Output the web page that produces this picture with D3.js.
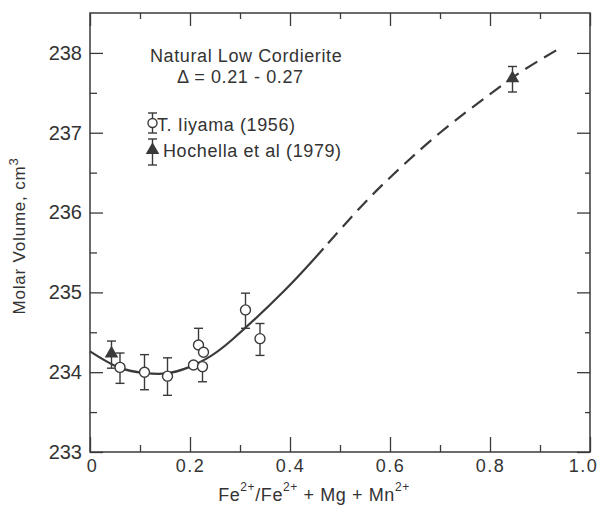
<!DOCTYPE html>
<html><head><meta charset="utf-8">
<script src="https://cdn.jsdelivr.net/npm/d3@7"></script>
<style>body{margin:0;background:#fff}svg{display:block}text{font-family:"Liberation Sans",Arial,sans-serif;fill:#333}</style>
</head><body><svg id="c" width="603" height="505"></svg>
<script>
// Data
const iiyamaX = [0.06, 0.109, 0.155, 0.207, 0.217, 0.227, 0.225, 0.311, 0.34];
const iiyamaY = [234.06, 234.00, 233.95, 234.09, 234.34, 234.25, 234.07, 234.78, 234.42];
const iiyamaErrUp = [0.18, 0.22, 0.23, 0, 0.21, 0, 0, 0.21, 0.19];
const iiyamaErrDn = [0.20, 0.22, 0.24, 0, 0, 0, 0.19, 0.23, 0.21];
const hochX = [0.043, 0.845];
const hochY = [234.22, 237.67];
const hochErr = [0.17, 0.16];
const curveX = [0, 0.057, 0.109, 0.153, 0.197, 0.233, 0.283, 0.39, 0.467, 0.54, 0.607, 0.70, 0.793, 0.86, 0.94];
const curveY = [234.26, 234.06, 233.99, 233.985, 234.06, 234.17, 234.40, 235.03, 235.55, 236.06, 236.48, 237.00, 237.45, 237.755, 238.06];
const curveSolidEnd = 0.467;
const xTicks = [0, 0.2, 0.4, 0.6, 0.8, 1.0];
const xTickLabels = ["0", "0.2", "0.4", "0.6", "0.8", "1.0"];
const xMinor = [0.1, 0.3, 0.5, 0.7, 0.9];
const yTicks = [233, 234, 235, 236, 237, 238];
const yMinor = [233.5, 234.5, 235.5, 236.5, 237.5];

const svg = d3.select("#c");
const L = 90, R = 590, T = 13, B = 452;
const x = d3.scaleLinear().domain([0, 1]).range([L, R]);
const y = d3.scaleLinear().domain([233, 238.5]).range([B, T]);
const ink = "#3a3a3a";

// frame
svg.append("rect").attr("x", L).attr("y", T).attr("width", R - L).attr("height", B - T)
  .attr("fill", "none").attr("stroke", ink).attr("stroke-width", 1.5);

function styleAxis(g) {
  g.select(".domain").remove();
  g.selectAll("line").attr("stroke", ink).attr("stroke-width", 1.3);
}
// bottom
svg.append("g").attr("transform", `translate(0,${B})`)
  .call(d3.axisBottom(x).tickValues(xTicks).tickSize(-15).tickPadding(7).tickFormat((d, i) => xTickLabels[i]))
  .call(styleAxis)
  .call(g => g.selectAll("text").attr("font-size", 18).attr("letter-spacing", 1.5).attr("fill", "#333")
    .attr("font-family", '"Liberation Sans",Arial,sans-serif')
    .attr("dx", d => d === 1 ? -7 : (d === 0 ? 2 : 0)));
svg.append("g").attr("transform", `translate(0,${B})`)
  .call(d3.axisBottom(x).tickValues(xMinor).tickSize(-7).tickFormat(""))
  .call(styleAxis);
// top
svg.append("g").attr("transform", `translate(0,${T})`)
  .call(d3.axisTop(x).tickValues(xTicks).tickSize(-13).tickFormat("")).call(styleAxis);
svg.append("g").attr("transform", `translate(0,${T})`)
  .call(d3.axisTop(x).tickValues(xMinor).tickSize(-6).tickFormat("")).call(styleAxis);
// left
svg.append("g").attr("transform", `translate(${L},0)`)
  .call(d3.axisLeft(y).tickValues(yTicks).tickSize(-13).tickPadding(8).tickFormat(d3.format("d")))
  .call(styleAxis)
  .call(g => g.selectAll("text").attr("font-size", 20).attr("fill", "#333")
    .attr("font-family", '"Liberation Sans",Arial,sans-serif'));
svg.append("g").attr("transform", `translate(${L},0)`)
  .call(d3.axisLeft(y).tickValues(yMinor).tickSize(-7).tickFormat("")).call(styleAxis);
// right
svg.append("g").attr("transform", `translate(${R},0)`)
  .call(d3.axisRight(y).tickValues(yTicks).tickSize(-13).tickFormat("")).call(styleAxis);
svg.append("g").attr("transform", `translate(${R},0)`)
  .call(d3.axisRight(y).tickValues(yMinor).tickSize(-5).tickFormat("")).call(styleAxis);

// curve: one smooth path, solid up to curveSolidEnd then dashed
const line = d3.line().x(d => x(d[0])).y(d => y(d[1])).curve(d3.curveNatural);
const curvePath = svg.append("path").datum(d3.zip(curveX, curveY)).attr("d", line)
  .attr("fill", "none").attr("stroke", ink).attr("stroke-width", 2.2);
(function () {
  const node = curvePath.node();
  const total = node.getTotalLength();
  const target = x(curveSolidEnd);
  let lo = 0, hi = total;
  for (let i = 0; i < 40; i++) {
    const mid = (lo + hi) / 2;
    if (node.getPointAtLength(mid).x < target) lo = mid; else hi = mid;
  }
  const parts = [lo.toFixed(1), 7];
  let acc = lo + 7;
  while (acc < total) { parts.push(14, 8); acc += 22; }
  curvePath.attr("stroke-dasharray", parts.join(" "));
})();

// error bars
function errBar(cx, yTop, yBot) {
  const g = svg.append("g").attr("stroke", ink).attr("stroke-width", 1.4);
  g.append("line").attr("x1", cx).attr("x2", cx).attr("y1", yTop).attr("y2", yBot);
  g.append("line").attr("x1", cx - 4.5).attr("x2", cx + 4.5).attr("y1", yTop).attr("y2", yTop);
  g.append("line").attr("x1", cx - 4.5).attr("x2", cx + 4.5).attr("y1", yBot).attr("y2", yBot);
}
iiyamaX.forEach((vx, i) => {
  const vy = iiyamaY[i];
  const up = iiyamaErrUp[i], dn = iiyamaErrDn[i];
  if (up > 0 || dn > 0) errBar(x(vx), y(vy + up), y(vy - dn));
});
hochX.forEach((vx, i) => errBar(x(vx), y(hochY[i] + hochErr[i]), y(hochY[i] - hochErr[i])));

svg.append("g").selectAll("circle").data(d3.zip(iiyamaX, iiyamaY)).join("circle")
  .attr("cx", d => x(d[0])).attr("cy", d => y(d[1])).attr("r", 5)
  .attr("fill", "#fff").attr("stroke", ink).attr("stroke-width", 1.4);

const tri = d3.symbol().type(d3.symbolTriangle).size(80);
svg.append("g").selectAll("path").data(d3.zip(hochX, hochY)).join("path")
  .attr("d", tri).attr("transform", d => `translate(${x(d[0])},${y(d[1]) - 1})`)
  .attr("fill", ink);

// title text
svg.append("text").attr("x", 150).attr("y", 62).attr("font-size", 18).attr("letter-spacing", 0.6)
  .text("Natural Low Cordierite");
svg.append("text").attr("x", 177).attr("y", 83).attr("font-size", 18).attr("letter-spacing", 0.6)
  .text("Δ = 0.21 - 0.27");

// legend
errBar(152.5, 113, 133);
svg.append("circle").attr("cx", 152.5).attr("cy", 123).attr("r", 4.5)
  .attr("fill", "#fff").attr("stroke", ink).attr("stroke-width", 1.4);
svg.append("text").attr("x", 157).attr("y", 131).attr("font-size", 18).attr("letter-spacing", 0.6)
  .text("T. Iiyama  (1956)");
errBar(152.5, 139, 165);
svg.append("path").attr("d", tri).attr("transform", "translate(152.5,150)").attr("fill", ink);
svg.append("text").attr("x", 163).attr("y", 157).attr("font-size", 18).attr("letter-spacing", 0.6)
  .text("Hochella et al  (1979)");

// axis labels
const yl = svg.append("text").attr("transform", "translate(25,236) rotate(-90)")
  .attr("text-anchor", "middle").attr("font-size", 17).attr("letter-spacing", 0.8);
yl.append("tspan").text("Molar Volume, cm");
yl.append("tspan").attr("dy", -7).attr("font-size", 13).text("3");

const xl = svg.append("text").attr("x", 314).attr("y", 501).attr("text-anchor", "middle")
  .attr("font-size", 18).attr("letter-spacing", 0.6);
xl.append("tspan").text("Fe");
xl.append("tspan").attr("dy", -10).attr("font-size", 12).text("2+");
xl.append("tspan").attr("dy", 10).text("/Fe");
xl.append("tspan").attr("dy", -10).attr("font-size", 12).text("2+");
xl.append("tspan").attr("dy", 10).text(" + Mg + Mn");
xl.append("tspan").attr("dy", -10).attr("font-size", 12).text("2+");
</script></body></html>
